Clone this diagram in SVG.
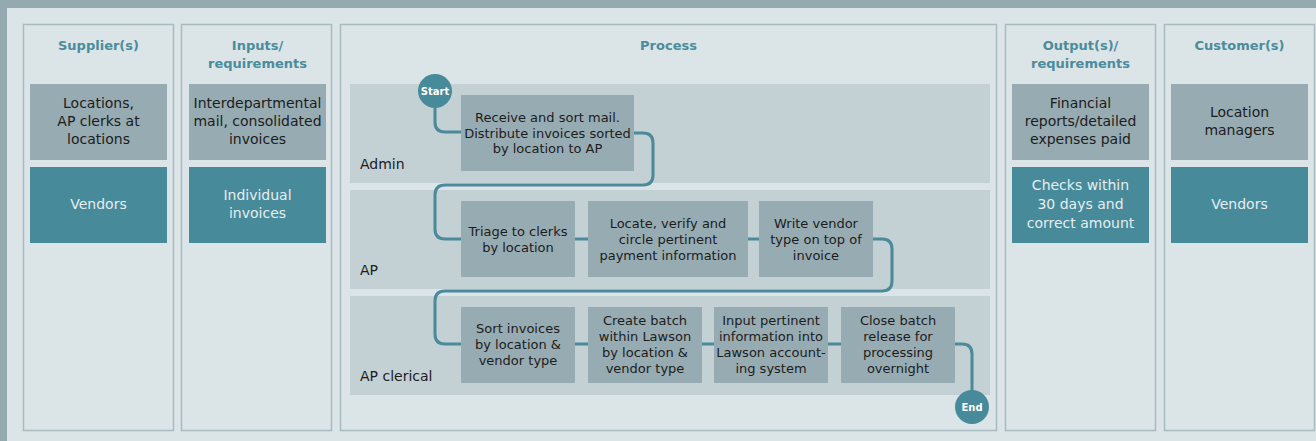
<svg xmlns="http://www.w3.org/2000/svg" width="1316" height="441" viewBox="0 0 1316 441">
<style>
.col{fill:#dbe4e7;stroke:#a8bbc1;stroke-width:1.5}
.lane{fill:#c3d0d4}
.g{fill:#97abb2}
.t{fill:#478a9a}
.hd{font-family:"DejaVu Sans",sans-serif;font-weight:bold;font-size:13px;fill:#4a8c9c;text-anchor:middle}
.ct{font-family:"DejaVu Sans",sans-serif;font-size:14px;fill:#1c1c1c;text-anchor:middle}
.cw{font-family:"DejaVu Sans",sans-serif;font-size:14px;fill:#e6eef0;text-anchor:middle}
.pt{font-family:"DejaVu Sans",sans-serif;font-size:13px;fill:#1c1c1c;text-anchor:middle}
.ln{font-family:"DejaVu Sans",sans-serif;font-size:14px;fill:#1c1c1c}
.ci{fill:#478a9a}
.cl{font-family:"DejaVu Sans",sans-serif;font-weight:bold;font-size:10px;fill:#ffffff;text-anchor:middle}
.con{fill:none;stroke:#4a8a9a;stroke-width:3}
</style>
<rect x="0" y="0" width="1316" height="441" fill="#95a9b0"/>
<rect x="7" y="8" width="1309" height="433" fill="#dbe4e7"/>

<g id="col-suppliers">
<rect class="col" x="23.5" y="24.5" width="150" height="406"/>
<text class="hd" x="98.5" y="50">Supplier(s)</text>
</g>
<g id="col-inputs">
<rect class="col" x="181.5" y="24.5" width="150" height="406"/>
<text class="hd" x="257.5" y="50">Inputs/</text>
<text class="hd" x="257.5" y="68">requirements</text>
</g>
<g id="col-process">
<rect class="col" x="340.5" y="24.5" width="656" height="406"/>
<text class="hd" x="668.5" y="50">Process</text>
</g>
<g id="col-outputs">
<rect class="col" x="1005.5" y="24.5" width="150" height="406"/>
<text class="hd" x="1080.5" y="50">Output(s)/</text>
<text class="hd" x="1080.5" y="68">requirements</text>
</g>
<g id="col-customers">
<rect class="col" x="1164.5" y="24.5" width="150" height="406"/>
<text class="hd" x="1239.5" y="50">Customer(s)</text>
</g>

<g id="lane-admin">
<rect class="lane" x="350" y="84" width="640" height="99"/>
<text class="ln" x="360" y="169">Admin</text>
</g>
<g id="lane-ap">
<rect class="lane" x="350" y="190" width="640" height="99"/>
<text class="ln" x="360" y="275">AP</text>
</g>
<g id="lane-apclerical">
<rect class="lane" x="350" y="296" width="640" height="99"/>
<text class="ln" x="360" y="381">AP clerical</text>
</g>

<g id="supplier-locations">
<rect class="g" x="30" y="84" width="137" height="76"/>
<text class="ct" x="98.5" y="108">Locations,</text>
<text class="ct" x="98.5" y="126">AP clerks at</text>
<text class="ct" x="98.5" y="144">locations</text>
</g>
<g id="supplier-vendors">
<rect class="t" x="30" y="167" width="137" height="76"/>
<text class="cw" x="98.5" y="209">Vendors</text>
</g>
<g id="input-mail">
<rect class="g" x="189" y="84" width="137" height="76"/>
<text class="ct" x="257.5" y="108">Interdepartmental</text>
<text class="ct" x="257.5" y="126">mail, consolidated</text>
<text class="ct" x="257.5" y="144">invoices</text>
</g>
<g id="input-individual">
<rect class="t" x="189" y="167" width="137" height="76"/>
<text class="cw" x="257.5" y="200">Individual</text>
<text class="cw" x="257.5" y="218">invoices</text>
</g>
<g id="output-reports">
<rect class="g" x="1012" y="84" width="137" height="76"/>
<text class="ct" x="1080.5" y="108">Financial</text>
<text class="ct" x="1080.5" y="126">reports/detailed</text>
<text class="ct" x="1080.5" y="144">expenses paid</text>
</g>
<g id="output-checks">
<rect class="t" x="1012" y="167" width="137" height="76"/>
<text class="cw" x="1080.5" y="190">Checks within</text>
<text class="cw" x="1080.5" y="209">30 days and</text>
<text class="cw" x="1080.5" y="228">correct amount</text>
</g>
<g id="customer-managers">
<rect class="g" x="1171" y="84" width="137" height="76"/>
<text class="ct" x="1239.5" y="117">Location</text>
<text class="ct" x="1239.5" y="135">managers</text>
</g>
<g id="customer-vendors">
<rect class="t" x="1171" y="167" width="137" height="76"/>
<text class="cw" x="1239.5" y="209">Vendors</text>
</g>

<g id="connectors">
<path class="con" d="M435,108 V122 Q435,132 445,132 H461"/>
<path class="con" d="M634,133 H643 Q653,133 653,143 V175 Q653,185 643,185 H445 Q435,185 435,195 V229 Q435,239 445,239 H461"/>
<path class="con" d="M575,239 H588"/>
<path class="con" d="M748,239 H759"/>
<path class="con" d="M873,239 H882 Q892,239 892,249 V281 Q892,291 882,291 H445 Q435,291 435,301 V334 Q435,344 445,344 H461"/>
<path class="con" d="M575,344 H588"/>
<path class="con" d="M702,344 H714"/>
<path class="con" d="M828,344 H841"/>
<path class="con" d="M955,344 H962 Q972,344 972,354 V391"/>
</g>

<g id="start">
<circle class="ci" cx="435" cy="91" r="17"/>
<text class="cl" x="435" y="95">Start</text>
</g>
<g id="end">
<circle class="ci" cx="972" cy="407" r="17"/>
<text class="cl" x="972" y="411">End</text>
</g>

<g id="p-receive">
<rect class="g" x="461" y="95" width="173" height="76"/>
<text class="pt" x="547.5" y="122">Receive and sort mail.</text>
<text class="pt" x="547.5" y="138">Distribute invoices sorted</text>
<text class="pt" x="547.5" y="153">by location to AP</text>
</g>
<g id="p-triage">
<rect class="g" x="461" y="201" width="114" height="76"/>
<text class="pt" x="518" y="236">Triage to clerks</text>
<text class="pt" x="518" y="252">by location</text>
</g>
<g id="p-locate">
<rect class="g" x="588" y="201" width="160" height="76"/>
<text class="pt" x="668" y="228">Locate, verify and</text>
<text class="pt" x="668" y="244">circle pertinent</text>
<text class="pt" x="668" y="260">payment information</text>
</g>
<g id="p-write">
<rect class="g" x="759" y="201" width="114" height="76"/>
<text class="pt" x="816" y="228">Write vendor</text>
<text class="pt" x="816" y="244">type on top of</text>
<text class="pt" x="816" y="260">invoice</text>
</g>
<g id="p-sort">
<rect class="g" x="461" y="307" width="114" height="76"/>
<text class="pt" x="518" y="333">Sort invoices</text>
<text class="pt" x="518" y="349">by location &amp;</text>
<text class="pt" x="518" y="365">vendor type</text>
</g>
<g id="p-create">
<rect class="g" x="588" y="307" width="114" height="76"/>
<text class="pt" x="645" y="325">Create batch</text>
<text class="pt" x="645" y="341">within Lawson</text>
<text class="pt" x="645" y="357">by location &amp;</text>
<text class="pt" x="645" y="373">vendor type</text>
</g>
<g id="p-input">
<rect class="g" x="714" y="307" width="114" height="76"/>
<text class="pt" x="771" y="325">Input pertinent</text>
<text class="pt" x="771" y="341">information into</text>
<text class="pt" x="771" y="357">Lawson account-</text>
<text class="pt" x="771" y="373">ing system</text>
</g>
<g id="p-close">
<rect class="g" x="841" y="307" width="114" height="76"/>
<text class="pt" x="898" y="325">Close batch</text>
<text class="pt" x="898" y="341">release for</text>
<text class="pt" x="898" y="357">processing</text>
<text class="pt" x="898" y="373">overnight</text>
</g>
</svg>
